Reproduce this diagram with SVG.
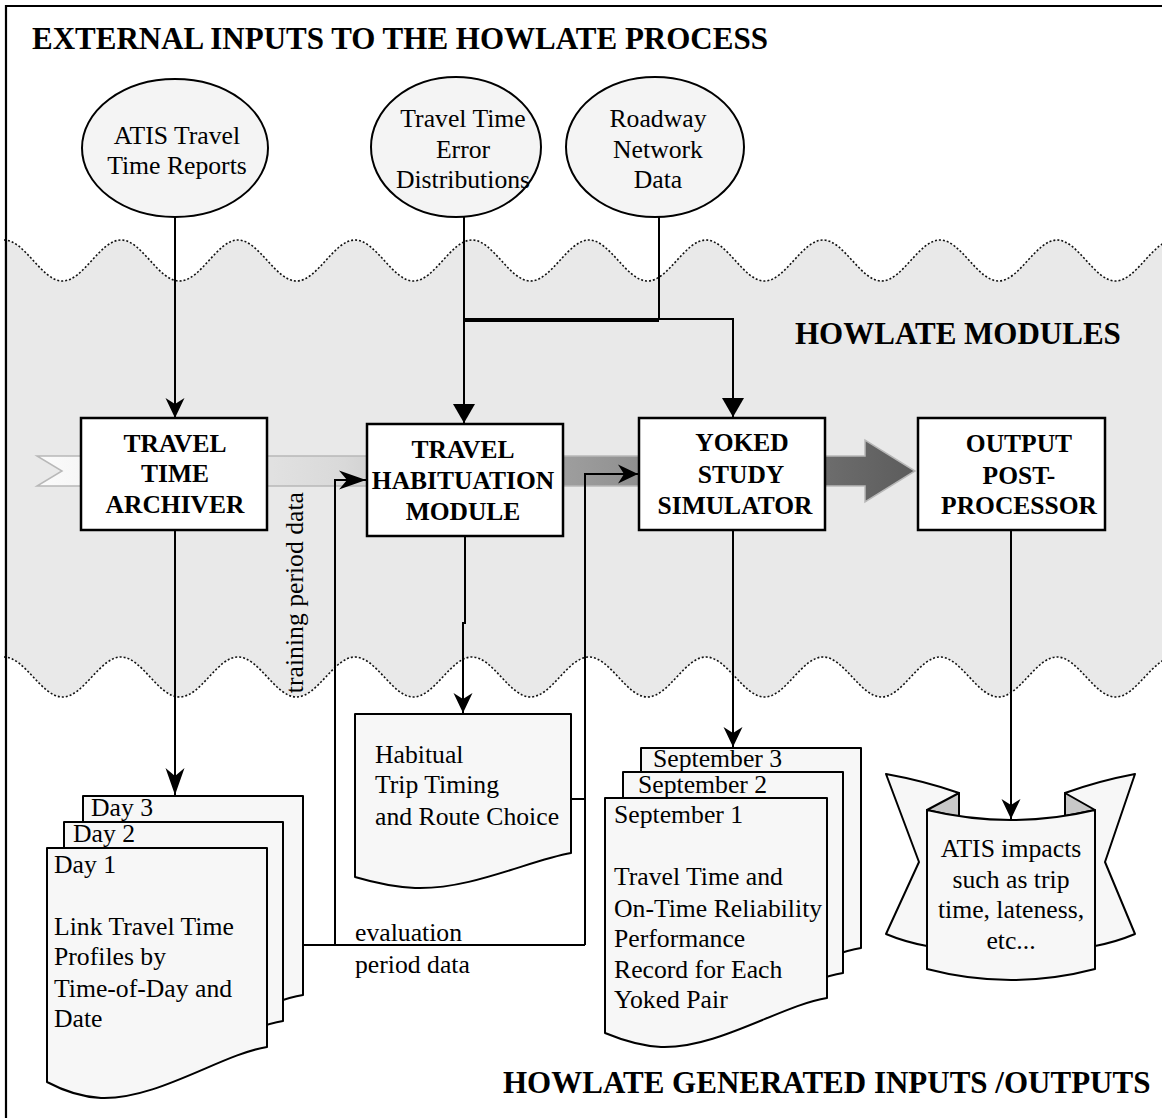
<svg xmlns="http://www.w3.org/2000/svg" width="1162" height="1118" viewBox="0 0 1162 1118">
<style>
.t{font-family:"Liberation Serif","Times New Roman",serif;font-size:25.7px;fill:#000}
.b{font-weight:bold;font-size:25.5px}
.h{font-weight:bold;font-size:31px}
.c{text-anchor:middle}
.ln{fill:none;stroke:#000;stroke-width:2}
.box{fill:#fff;stroke:#000;stroke-width:2.5}
.doc{fill:#f7f7f7;stroke:#000;stroke-width:2;stroke-linejoin:round}
.ell{fill:#f4f4f4;stroke:#000;stroke-width:2}
.wave{fill:none;stroke:#111;stroke-width:1.6;stroke-dasharray:2 2}
</style>
<defs>
<linearGradient id="ga" gradientUnits="userSpaceOnUse" x1="37" y1="0" x2="915" y2="0">
<stop offset="0" stop-color="#fbfbfb"/>
<stop offset="0.35" stop-color="#d9d9d9"/>
<stop offset="0.6" stop-color="#9e9e9e"/>
<stop offset="1" stop-color="#5c5c5c"/>
</linearGradient>
<marker id="an" viewBox="-24 -12 26 24" refX="0" refY="0" markerWidth="26" markerHeight="24" markerUnits="userSpaceOnUse" orient="auto">
<path d="M0,0 L-20,-9.5 L-14,0 L-20,9.5 Z" fill="#000"/>
</marker>
<marker id="anl" viewBox="-30 -12 32 24" refX="0" refY="0" markerWidth="32" markerHeight="24" markerUnits="userSpaceOnUse" orient="auto">
<path d="M0,0 L-27,-9.5 L-19,0 L-27,9.5 Z" fill="#000"/>
</marker>
<marker id="ap" viewBox="-22 -13 24 26" refX="0" refY="0" markerWidth="24" markerHeight="26" markerUnits="userSpaceOnUse" orient="auto">
<path d="M0,0 L-19,-11 L-19,11 Z" fill="#000"/>
</marker>
</defs>
<rect x="0" y="0" width="1162" height="1118" fill="#fff"/>

<g id="modules-band">
<path fill="#e9e9e9" d="M4,240 C25,240 41.5,281 62.5,281 S100,240 121,240 S158,281 179.5,281 S217,240 238,240 S275.5,281 296.5,281 S334,240 355,240 S392.5,281 413.5,281 S451,240 472,240 S509.5,281 530.5,281 S568,240 589,240 S626.5,281 647.5,281 S685,240 706,240 S743.5,281 764.5,281 S802,240 823,240 S860.5,281 881.5,281 S919,240 940,240 S977.5,281 998.5,281 S1036,240 1057,240 S1094.5,281 1115.5,281 S1153,240 1174,240 L1174,657 C1153,657 1136.5,697 1115.5,697 S1078,657 1057,657 S1019.5,697 998.5,697 S961,657 940,657 S902.5,697 881.5,697 S844,657 823,657 S785.5,697 764.5,697 S727,657 706,657 S668.5,697 647.5,697 S610,657 589,657 S551.5,697 530.5,697 S493,657 472,657 S434.5,697 413.5,697 S376,657 355,657 S317.5,697 296.5,697 S259,657 238,657 S200.5,697 179.5,697 S142,657 121,657 S83.5,697 62.5,697 S25,657 4,657 Z"/>
<path class="wave" d="M4,240 C25,240 41.5,281 62.5,281 S100,240 121,240 S158,281 179.5,281 S217,240 238,240 S275.5,281 296.5,281 S334,240 355,240 S392.5,281 413.5,281 S451,240 472,240 S509.5,281 530.5,281 S568,240 589,240 S626.5,281 647.5,281 S685,240 706,240 S743.5,281 764.5,281 S802,240 823,240 S860.5,281 881.5,281 S919,240 940,240 S977.5,281 998.5,281 S1036,240 1057,240 S1094.5,281 1115.5,281 S1153,240 1174,240"/>
<path class="wave" d="M4,657 C25,657 41.5,697 62.5,697 S100,657 121,657 S158,697 179.5,697 S217,657 238,657 S275.5,697 296.5,697 S334,657 355,657 S392.5,697 413.5,697 S451,657 472,657 S509.5,697 530.5,697 S568,657 589,657 S626.5,697 647.5,697 S685,657 706,657 S743.5,697 764.5,697 S802,657 823,657 S860.5,697 881.5,697 S919,657 940,657 S977.5,697 998.5,697 S1036,657 1057,657 S1094.5,697 1115.5,697 S1153,657 1174,657"/>
</g>

<g id="frame">
<line x1="5" y1="6" x2="1162" y2="6" stroke="#000" stroke-width="2.2"/>
<line x1="6" y1="5" x2="6" y2="1118" stroke="#000" stroke-width="2.2"/>
</g>

<g id="titles">
<text class="t h" x="32" y="49">EXTERNAL INPUTS TO THE HOWLATE PROCESS</text>
<text class="t h" x="795" y="344">HOWLATE MODULES</text>
<text class="t h" x="503" y="1093">HOWLATE GENERATED INPUTS /OUTPUTS</text>
</g>

<g id="flow-arrow">
<path d="M37,456 H865 V440 L915,471 L865,502 V486 H37 L62,471 Z" fill="url(#ga)" stroke="#b8b8b8" stroke-width="1.5"/>
</g>

<g id="connectors">
<path class="ln" d="M175,217 V418" marker-end="url(#an)"/>
<path class="ln" d="M464,217 V423" marker-end="url(#ap)"/>
<path class="ln" d="M659,217 V320"/>
<path d="M464,320 H659" fill="none" stroke="#000" stroke-width="4"/>
<path class="ln" d="M659,319 H733 V417" marker-end="url(#ap)"/>
<path class="ln" d="M175,530 V795" marker-end="url(#anl)"/>
<path class="ln" d="M465,536 V623 H463 V713" marker-end="url(#an)"/>
<path class="ln" d="M733,530 V747" marker-end="url(#an)"/>
<path class="ln" d="M1011,530 V819" marker-end="url(#an)"/>
<path class="ln" d="M303,945 H585"/>
<path class="ln" d="M335,945 V480 H366" marker-end="url(#anl)"/>
<path class="ln" d="M585,945 V474 H638" marker-end="url(#an)"/>
<path class="ln" d="M571,799 H585"/>
<text class="t" transform="translate(303,492) rotate(-90)" text-anchor="end">training period data</text>
<text class="t" x="355" y="941">evaluation</text>
<text class="t" x="355" y="973">period data</text>
</g>

<g id="atis-reports">
<ellipse class="ell" cx="175" cy="148" rx="93" ry="69"/>
<text class="t c" x="177" y="144">ATIS Travel</text>
<text class="t c" x="177" y="174">Time Reports</text>
</g>
<g id="error-distributions">
<ellipse class="ell" cx="456" cy="147" rx="85" ry="70"/>
<text class="t c" x="463" y="127">Travel Time</text>
<text class="t c" x="463" y="158">Error</text>
<text class="t c" x="463" y="188">Distributions</text>
</g>
<g id="roadway-data">
<ellipse class="ell" cx="655" cy="147" rx="89" ry="70"/>
<text class="t c" x="658" y="127">Roadway</text>
<text class="t c" x="658" y="158">Network</text>
<text class="t c" x="658" y="188">Data</text>
</g>

<g id="archiver">
<rect class="box" x="81" y="418" width="186" height="112"/>
<text class="t b c" x="175" y="452">TRAVEL</text>
<text class="t b c" x="175" y="482">TIME</text>
<text class="t b c" x="175" y="513">ARCHIVER</text>
</g>
<g id="habituation">
<rect class="box" x="367" y="424" width="196" height="112"/>
<text class="t b c" x="463" y="458">TRAVEL</text>
<text class="t b c" x="463" y="489">HABITUATION</text>
<text class="t b c" x="463" y="520">MODULE</text>
</g>
<g id="simulator">
<rect class="box" x="639" y="418" width="186" height="112"/>
<text class="t b c" x="742" y="451">YOKED</text>
<text class="t b c" x="741" y="483">STUDY</text>
<text class="t b c" x="735" y="514">SIMULATOR</text>
</g>
<g id="postprocessor">
<rect class="box" x="918" y="418" width="187" height="112"/>
<text class="t b c" x="1019" y="452">OUTPUT</text>
<text class="t b c" x="1019" y="484">POST-</text>
<text class="t b c" x="1019" y="514">PROCESSOR</text>
</g>

<g id="day-profiles">
<path class="doc" d="M83,796 H303 V995 C258,1002 193,1048 137,1046 C118,1045 98,1038 83,1030 Z"/>
<text class="t" x="91" y="816">Day 3</text>
<path class="doc" d="M64,822 H283 V1021 C238,1028 174,1074 118,1072 C99,1071 79,1064 64,1056 Z"/>
<text class="t" x="73" y="842">Day 2</text>
<path class="doc" d="M47,848 H267 V1047 C222,1054 157,1100 101,1098 C82,1097 62,1090 47,1082 Z"/>
<text class="t" x="54" y="873">Day 1</text>
<text class="t" x="54" y="935">Link Travel Time</text>
<text class="t" x="54" y="965">Profiles by</text>
<text class="t" x="54" y="997">Time-of-Day and</text>
<text class="t" x="54" y="1027">Date</text>
</g>

<g id="habitual">
<path class="doc" d="M355,714 H571 V853 C530,860 470,890 415,888 C395,887 372,882 355,877 Z"/>
<text class="t" x="375" y="763">Habitual</text>
<text class="t" x="375" y="793">Trip Timing</text>
<text class="t" x="375" y="825">and Route Choice</text>
</g>

<g id="september-records">
<path class="doc" d="M641,748 H861 V948 C816,955 751,1000 695,998 C676,997 656,990 641,982 Z"/>
<text class="t" x="653" y="767">September 3</text>
<path class="doc" d="M623,772 H843 V973 C798,980 733,1024 677,1022 C658,1021 638,1014 623,1006 Z"/>
<text class="t" x="638" y="793">September 2</text>
<path class="doc" d="M605,798 H827 V998 C782,1005 717,1049 661,1047 C642,1046 622,1040 605,1033 Z"/>
<text class="t" x="614" y="823">September 1</text>
<text class="t" x="614" y="885">Travel Time and</text>
<text class="t" x="614" y="917">On-Time Reliability</text>
<text class="t" x="614" y="947">Performance</text>
<text class="t" x="614" y="978">Record for Each</text>
<text class="t" x="614" y="1008">Yoked Pair</text>
</g>

<g id="atis-impacts">
<path class="doc" d="M886,774 Q925,781 959,793 L959,940 L927,946 Q905,942 886,934 L919,862 Z"/>
<path class="doc" d="M1135,774 Q1098,781 1065,793 L1065,940 L1095,946 Q1116,942 1135,934 L1105,862 Z"/>
<path d="M959,793 L927,810 L959,817 Z" fill="#c8c8c8" stroke="#000" stroke-width="2" stroke-linejoin="round"/>
<path d="M1065,793 L1095,810 L1065,816 Z" fill="#c8c8c8" stroke="#000" stroke-width="2" stroke-linejoin="round"/>
<path class="doc" d="M927,810 Q1011,830 1095,810 L1095,969 Q1011,991 927,969 Z"/>
<text class="t c" x="1011" y="857">ATIS impacts</text>
<text class="t c" x="1011" y="888">such as trip</text>
<text class="t c" x="1011" y="918">time, lateness,</text>
<text class="t c" x="1011" y="949">etc...</text>
</g>
</svg>
